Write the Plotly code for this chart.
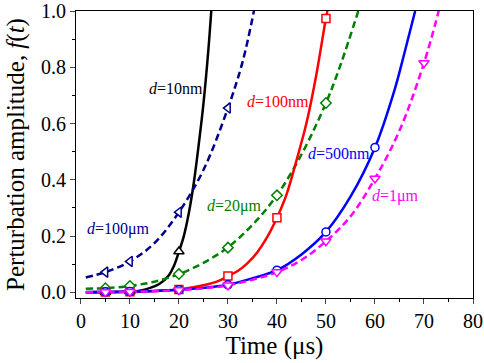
import plotly.graph_objects as go

# ---- data ----
t_10nm = [1, 5, 10, 12, 14, 16, 18, 19, 20, 21, 22, 23, 24, 25, 26, 26.6]
f_10nm = [0.0, 0.0, 0.003, 0.006, 0.015, 0.03, 0.062, 0.095, 0.145, 0.2, 0.28, 0.385, 0.52, 0.67, 0.86, 1.0]
m_t_10nm = [5, 10, 20]
m_f_10nm = [0.0, 0.003, 0.145]

t_100um = [1, 5, 10, 15, 20, 25, 30, 33, 35.3]
f_100um = [0.053, 0.072, 0.11, 0.175, 0.285, 0.435, 0.655, 0.82, 1.0]
m_t_100um = [5, 10, 20, 30]
m_f_100um = [0.072, 0.11, 0.285, 0.655]

t_20um = [1, 5, 10, 15, 20, 25, 30, 35, 40, 45, 50, 53, 56.6]
f_20um = [0.013, 0.015, 0.023, 0.038, 0.065, 0.105, 0.16, 0.24, 0.345, 0.49, 0.673, 0.81, 1.0]
m_t_20um = [5, 10, 20, 30, 40, 50]
m_f_20um = [0.015, 0.023, 0.065, 0.159, 0.345, 0.673]

t_100nm = [1, 5, 10, 15, 20, 25, 28, 30, 32, 34, 36, 38, 40, 42, 44, 46, 48, 50, 50.3]
f_100nm = [0.0, 0.001, 0.002, 0.005, 0.01, 0.025, 0.04, 0.058, 0.076, 0.104, 0.143, 0.196, 0.265, 0.35, 0.47, 0.6, 0.77, 0.975, 1.0]
m_t_100nm = [5, 10, 20, 30, 40, 50]
m_f_100nm = [0.001, 0.002, 0.01, 0.058, 0.265, 0.973]

t_500nm = [1, 5, 10, 15, 20, 25, 30, 35, 40, 45, 50, 55, 60, 64, 66, 68.2]
f_500nm = [0.001, 0.002, 0.003, 0.005, 0.009, 0.016, 0.027, 0.05, 0.079, 0.135, 0.215, 0.34, 0.515, 0.72, 0.85, 1.0]
m_t_500nm = [5, 10, 20, 30, 40, 50, 60]
m_f_500nm = [0.002, 0.003, 0.009, 0.027, 0.079, 0.215, 0.515]

t_1um = [1, 5, 10, 15, 20, 25, 30, 35, 40, 45, 50, 55, 60, 65, 70, 73]
f_1um = [0.0, 0.001, 0.002, 0.004, 0.008, 0.014, 0.025, 0.045, 0.072, 0.115, 0.182, 0.27, 0.405, 0.575, 0.815, 1.0]
m_t_1um = [5, 10, 20, 30, 40, 50, 60, 70]
m_f_1um = [0.001, 0.002, 0.008, 0.025, 0.072, 0.182, 0.405, 0.815]

x_ticks = [0, 10, 20, 30, 40, 50, 60, 70, 80]
y_ticks = [0.0, 0.2, 0.4, 0.6, 0.8, 1.0]
y_tick_text = ["0.0", "0.2", "0.4", "0.6", "0.8", "1.0"]

labels = ["<i>d</i>=10nm", "<i>d</i>=100μm", "<i>d</i>=20μm", "<i>d</i>=100nm", "<i>d</i>=500nm", "<i>d</i>=1μm"]
label_t = [19.3, 7.6, 31.4, 40.3, 52.6, 64.2]
label_f = [0.726, 0.225, 0.306, 0.677, 0.493, 0.341]

SERIF = "Times New Roman, Liberation Serif, DejaVu Serif, serif"

series = [
    (t_10nm, f_10nm, m_t_10nm, m_f_10nm, "#000000", "solid", "triangle-up"),
    (t_100um, f_100um, m_t_100um, m_f_100um, "#00008B", "dash", "triangle-left"),
    (t_20um, f_20um, m_t_20um, m_f_20um, "#008000", "dash", "diamond"),
    (t_100nm, f_100nm, m_t_100nm, m_f_100nm, "#FF0000", "solid", "square"),
    (t_500nm, f_500nm, m_t_500nm, m_f_500nm, "#0000FF", "solid", "circle"),
    (t_1um, f_1um, m_t_1um, m_f_1um, "#FF00FF", "dash", "triangle-down"),
]

fig = go.Figure()
for (tx, fy, mt, mf, col, dash, sym) in series:
    fig.add_trace(go.Scatter(
        x=tx, y=fy, mode="lines",
        line=dict(color=col, width=2.5, dash=("7px,4px" if dash == "dash" else "solid"), shape="spline"),
        showlegend=False, hoverinfo="skip"))
for (tx, fy, mt, mf, col, dash, sym) in series:
    fig.add_trace(go.Scatter(
        x=mt, y=mf, mode="markers",
        marker=dict(symbol=sym, size=9 if sym.startswith("triangle") else 8,
                    color="white", line=dict(color=col, width=1.5)),
        showlegend=False))

label_colors = ["#000000", "#00008B", "#008000", "#FF0000", "#0000FF", "#FF00FF"]
for txt, lx, ly, c in zip(labels, label_t, label_f, label_colors):
    fig.add_annotation(x=lx, y=ly, text=txt, showarrow=False,
                       font=dict(family=SERIF, size=16, color=c))

axis_font = dict(family=SERIF, size=20, color="black")
fig.update_layout(
    width=484, height=363,
    margin=dict(l=76, r=11, t=11, b=65),
    plot_bgcolor="white", paper_bgcolor="white",
    font=dict(family=SERIF, color="black"),
    xaxis=dict(
        range=[-1, 80], tickvals=x_ticks, ticks="outside", ticklen=5, tickwidth=1.2,
        showline=True, linecolor="black", linewidth=1.2, mirror=True,
        showgrid=False, zeroline=False, tickfont=axis_font, ticklabeloverflow="allow",
        minor=dict(dtick=5, tick0=0, ticks="outside", ticklen=3, tickcolor="black", showgrid=False),
        title=dict(text="Time (μs)", font=dict(family=SERIF, size=25), standoff=3),
        automargin=False,
    ),
    yaxis=dict(
        range=[-0.02, 1.0], tickvals=y_ticks, ticktext=y_tick_text, ticks="outside", ticklen=5, tickwidth=1.2,
        showline=True, linecolor="black", linewidth=1.2, mirror=True,
        showgrid=False, zeroline=False, tickfont=axis_font, ticklabeloverflow="allow",
        minor=dict(dtick=0.1, tick0=0, ticks="outside", ticklen=3, tickcolor="black", showgrid=False),
        title=dict(text="Perturbation amplitude, <i>f</i>(<i>t</i>)", font=dict(family=SERIF, size=25), standoff=9),
        automargin=False,
    ),
)

fig.write_html("out.html", config={"displayModeBar": False},
               post_script="document.body.style.margin='0';")
